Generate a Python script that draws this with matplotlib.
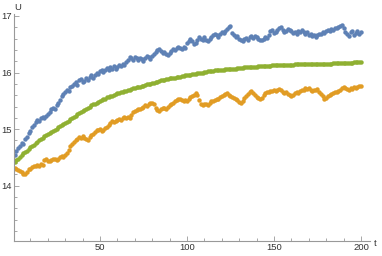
import numpy as np
import matplotlib
matplotlib.use("Agg")
import matplotlib.pyplot as plt
from matplotlib.ticker import MultipleLocator

t = np.arange(1, 201)

blue = [14.55, 14.62, 14.67, 14.70, 14.76, 14.74, 14.82, 14.86, 14.93, 14.97,
        15.03, 15.08, 15.12, 15.17, 15.15, 15.20, 15.22, 15.19, 15.24, 15.27,
        15.30, 15.35, 15.38, 15.36, 15.42, 15.47, 15.52, 15.58, 15.62, 15.65,
        15.70, 15.68, 15.75, 15.77, 15.80, 15.83, 15.78, 15.86, 15.88, 15.84,
        15.85, 15.90, 15.87, 15.92, 15.95, 15.91, 15.96, 16.00, 15.98, 16.02,
        16.05, 16.01, 16.04, 16.08, 16.05, 16.10, 16.07, 16.11, 16.06, 16.10,
        16.14, 16.12, 16.16, 16.13, 16.19, 16.22, 16.28, 16.26, 16.23, 16.27,
        16.25, 16.22, 16.26, 16.24, 16.21, 16.25, 16.29, 16.27, 16.24, 16.30,
        16.33, 16.36, 16.40, 16.42, 16.38, 16.35, 16.37, 16.33, 16.31, 16.34,
        16.38, 16.42, 16.40, 16.44, 16.46, 16.43, 16.41, 16.45, 16.43, 16.52,
        16.56, 16.60, 16.55, 16.50, 16.53, 16.58, 16.62, 16.60, 16.57, 16.62,
        16.58, 16.55, 16.60, 16.63, 16.66, 16.69, 16.66, 16.63, 16.68, 16.72,
        16.70, 16.74, 16.77, 16.80, 16.83, 16.70, 16.66, 16.62, 16.64, 16.60,
        16.57, 16.55, 16.59, 16.61, 16.58, 16.63, 16.65, 16.61, 16.64, 16.62,
        16.60, 16.58, 16.57, 16.60, 16.63, 16.61, 16.67, 16.73, 16.75, 16.70,
        16.72, 16.76, 16.78, 16.81, 16.75, 16.71, 16.74, 16.77, 16.76, 16.73,
        16.70, 16.72, 16.68, 16.74, 16.72, 16.76, 16.71, 16.69, 16.72, 16.67,
        16.68, 16.64, 16.66, 16.63, 16.67, 16.69, 16.68, 16.71, 16.70, 16.73,
        16.75, 16.74, 16.77, 16.76, 16.79, 16.78, 16.81, 16.82, 16.84, 16.78,
        16.71, 16.68, 16.65, 16.71, 16.74, 16.66, 16.70, 16.73, 16.68, 16.71]

green = [14.42, 14.45, 14.48, 14.51, 14.54, 14.57, 14.60, 14.62, 14.65, 14.68,
         14.70, 14.72, 14.75, 14.77, 14.80, 14.82, 14.85, 14.87, 14.89, 14.91,
         14.93, 14.95, 14.97, 14.99, 15.01, 15.03, 15.05, 15.07, 15.09, 15.11,
         15.13, 15.15, 15.18, 15.20, 15.22, 15.24, 15.26, 15.28, 15.30, 15.32,
         15.34, 15.36, 15.38, 15.40, 15.42, 15.44, 15.45, 15.47, 15.48, 15.50,
         15.51, 15.53, 15.54, 15.56, 15.57, 15.58, 15.59, 15.60, 15.62, 15.63,
         15.64, 15.65, 15.66, 15.67, 15.68, 15.69, 15.70, 15.71, 15.72, 15.73,
         15.74, 15.75, 15.75, 15.76, 15.77, 15.78, 15.79, 15.80, 15.80, 15.81,
         15.82, 15.83, 15.84, 15.85, 15.86, 15.86, 15.87, 15.88, 15.89, 15.90,
         15.90, 15.91, 15.91, 15.92, 15.93, 15.93, 15.94, 15.94, 15.95, 15.95,
         15.96, 15.96, 15.97, 15.98, 15.98, 15.99, 15.99, 16.00, 16.00, 16.01,
         16.01, 16.02, 16.02, 16.03, 16.03, 16.04, 16.04, 16.04, 16.05, 16.05,
         16.05, 16.06, 16.06, 16.06, 16.07, 16.07, 16.07, 16.07, 16.08, 16.08,
         16.08, 16.08, 16.09, 16.09, 16.09, 16.09, 16.10, 16.10, 16.10, 16.10,
         16.11, 16.11, 16.11, 16.11, 16.12, 16.12, 16.12, 16.12, 16.13, 16.13,
         16.13, 16.13, 16.13, 16.14, 16.14, 16.14, 16.14, 16.14, 16.14, 16.14,
         16.14, 16.15, 16.15, 16.15, 16.15, 16.15, 16.15, 16.15, 16.15, 16.15,
         16.15, 16.16, 16.16, 16.16, 16.16, 16.16, 16.16, 16.16, 16.16, 16.16,
         16.16, 16.16, 16.16, 16.17, 16.17, 16.17, 16.17, 16.17, 16.17, 16.17,
         16.17, 16.17, 16.17, 16.17, 16.17, 16.18, 16.18, 16.18, 16.18, 16.18]

orange = [14.32, 14.30, 14.28, 14.26, 14.24, 14.21, 14.20, 14.24, 14.30, 14.29,
          14.33, 14.35, 14.34, 14.36, 14.35, 14.38, 14.37, 14.45, 14.47, 14.43,
          14.44, 14.46, 14.48, 14.47, 14.45, 14.48, 14.50, 14.52, 14.50, 14.55,
          14.58, 14.63, 14.70, 14.74, 14.78, 14.80, 14.82, 14.86, 14.84, 14.87,
          14.85, 14.82, 14.80, 14.86, 14.90, 14.92, 14.95, 14.98, 14.99, 15.00,
          14.97, 14.99, 15.02, 15.04, 15.08, 15.11, 15.14, 15.12, 15.15, 15.16,
          15.18, 15.16, 15.19, 15.21, 15.20, 15.22, 15.20, 15.25, 15.30, 15.32,
          15.33, 15.36, 15.35, 15.38, 15.40, 15.42, 15.41, 15.44, 15.46, 15.47,
          15.44, 15.38, 15.34, 15.32, 15.35, 15.37, 15.38, 15.36, 15.40, 15.43,
          15.45, 15.47, 15.50, 15.52, 15.54, 15.53, 15.51, 15.49, 15.51, 15.50,
          15.53, 15.57, 15.59, 15.61, 15.63, 15.60, 15.52, 15.45, 15.43, 15.44,
          15.45, 15.43, 15.47, 15.49, 15.50, 15.52, 15.54, 15.53, 15.56, 15.58,
          15.60, 15.62, 15.63, 15.60, 15.59, 15.57, 15.55, 15.53, 15.51, 15.48,
          15.47, 15.50, 15.55, 15.59, 15.62, 15.65, 15.67, 15.63, 15.60, 15.56,
          15.55, 15.53, 15.55, 15.60, 15.64, 15.66, 15.65, 15.68, 15.67, 15.69,
          15.68, 15.70, 15.71, 15.69, 15.66, 15.64, 15.65, 15.62, 15.60, 15.59,
          15.61, 15.63, 15.66, 15.64, 15.68, 15.70, 15.69, 15.72, 15.71, 15.73,
          15.69, 15.67, 15.70, 15.69, 15.71, 15.66, 15.62, 15.58, 15.54, 15.55,
          15.58, 15.60, 15.62, 15.64, 15.66, 15.65, 15.68, 15.70, 15.72, 15.74,
          15.73, 15.71, 15.70, 15.72, 15.71, 15.74, 15.73, 15.75, 15.77, 15.76]

plt.rcParams['font.family'] = ['Liberation Sans', 'DejaVu Sans']

fig = plt.figure(figsize=(3.82, 2.56), dpi=100)
ax = fig.add_axes([14 / 382, 1 - 240.7 / 256, 356 / 382, 226.7 / 256])

ax.plot(t, blue, 'o', color='#5E81B5', ms=3.2, mec='none')
ax.plot(t, orange, 'o', color='#E19C24', ms=3.2, mec='none')
ax.plot(t, green, 'o', color='#8FB032', ms=3.2, mec='none')

ax.set_xlim(0.57, 205.2)
ax.set_ylim(13.028, 17.035)

for s in ['top', 'right']:
    ax.spines[s].set_visible(False)
for s in ['left', 'bottom']:
    ax.spines[s].set_color('#999999')
    ax.spines[s].set_linewidth(0.8)

ax.xaxis.set_major_locator(MultipleLocator(50))
ax.xaxis.set_minor_locator(MultipleLocator(10))
ax.yaxis.set_major_locator(MultipleLocator(1))
ax.yaxis.set_minor_locator(MultipleLocator(0.2))
ax.tick_params(which='both', direction='in', color='#999999', width=0.6,
               labelsize=6.8, labelcolor='#333333', pad=1.5)
ax.tick_params(which='major', length=3.5)
ax.tick_params(which='minor', length=2)

fig.text(14 / 382, 1 - 7 / 256, 'U', fontsize=6.8, color='#333333',
         ha='left', va='center')
fig.text(374 / 382, 1 - 244 / 256, 't', fontsize=6.8, color='#333333',
         ha='left', va='center')

fig.savefig('out.png', dpi=100)
